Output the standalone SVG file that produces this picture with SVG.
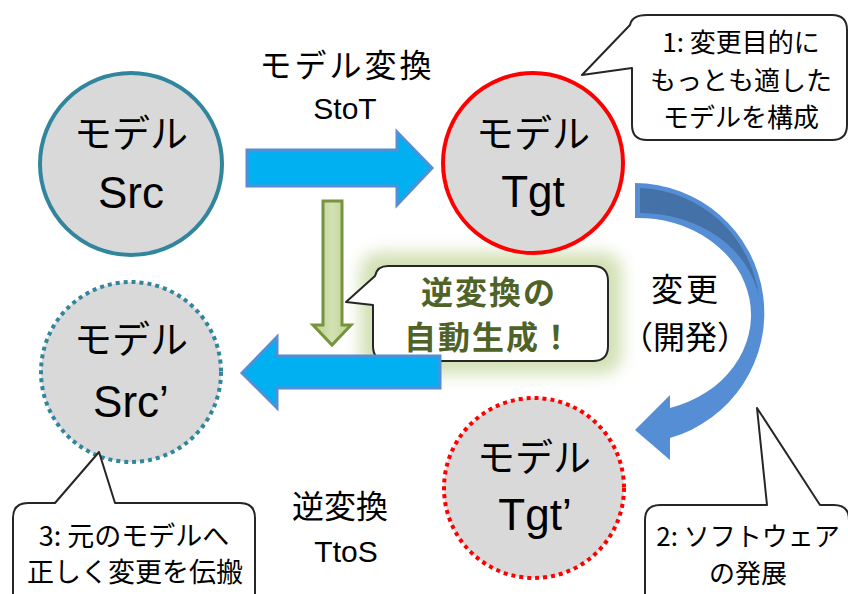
<svg xmlns="http://www.w3.org/2000/svg" width="848" height="594" viewBox="0 0 848 594">
<defs>
<style>
.jp{font-family:"Noto Sans CJK JP","Noto Sans",sans-serif;fill:#000;text-anchor:middle}
.lat{font-family:"Liberation Sans",Arial,sans-serif;fill:#000;text-anchor:middle}
.node{fill:#D9D9D9;stroke-width:4}
.callout{fill:#fff;stroke:#262626;stroke-width:2;stroke-linejoin:round}
.blue{fill:#00B0F0;stroke:#558ED5;stroke-width:3;stroke-linejoin:miter}
</style>
<filter id="glow" x="-30%" y="-40%" width="160%" height="180%">
<feGaussianBlur stdDeviation="8"/>
</filter>
<linearGradient id="gArrow" x1="0" y1="0" x2="1" y2="0">
<stop offset="0" stop-color="#B9CF8C"/>
<stop offset="0.5" stop-color="#D3E2B4"/>
<stop offset="1" stop-color="#B9CF8C"/>
</linearGradient>
</defs>
<rect width="848" height="594" fill="#fff"/>

<!-- glow + inverse callout -->
<g id="auto-gen">
<rect x="360" y="252" width="262" height="122" rx="20" fill="#C3D69B" opacity="0.75" filter="url(#glow)"/>
<path class="callout" d="M388,266 H593 Q608,266 608,281 V346 Q608,361 593,361 H388 Q373,361 373,346 V305 L346,302 L375,276 Q377,266 388,266 Z"/>
<text class="jp" x="489" y="304" font-size="32" font-weight="700" letter-spacing="2" style="fill:#4F6228">逆変換の</text>
<text class="jp" x="489" y="349" font-size="32" font-weight="700" letter-spacing="2" style="fill:#4F6228">自動生成！</text>
</g>

<g id="src">
<circle class="node" cx="131" cy="164" r="91" stroke="#31859C"/>
<text class="jp" x="131" y="147" font-size="38">モデル</text>
<text class="lat" x="131" y="208" font-size="44">Src</text>
</g>

<g id="tgt">
<circle class="node" cx="533" cy="163" r="90" stroke="#FF0000"/>
<text class="jp" x="533" y="147" font-size="38">モデル</text>
<text class="lat" x="533" y="207" font-size="44">Tgt</text>
</g>

<g id="src2">
<circle class="node" cx="131" cy="372" r="90" stroke="#31859C" stroke-dasharray="4 4"/>
<text class="jp" x="131" y="353" font-size="38">モデル</text>
<text class="lat" x="131" y="417" font-size="44">Src’</text>
</g>

<g id="tgt2">
<circle class="node" cx="534" cy="488" r="90" stroke="#FF0000" stroke-dasharray="4 4"/>
<text class="jp" x="534" y="471" font-size="38">モデル</text>
<text class="lat" x="535" y="530" font-size="44">Tgt’</text>
</g>

<g id="connectors">
<!-- StoT -->
<path class="blue" d="M247,150 H397 V132 L432,168 L397,205 V186 H247 Z"/>
<!-- generation down arrow -->
<path d="M323,201 H342 V325 H351 L332,345 L313,325 H323 Z" fill="url(#gArrow)" stroke="#77933C" stroke-width="3"/>
<!-- TtoS -->
<path class="blue" d="M440,356 H277 V337 L242,373 L277,408 V388 H440 Z"/>
<!-- curved change arrow -->
<path d="M635,183 A130,130 0 0 1 670,438 L670,460 L635,430 L670,395 L670,408 A113,97 0 0 0 635,218 Z" fill="#558ED5"/>
<path d="M640,188 A124,124 0 0 1 759,298 A120,100 0 0 0 640,213 Z" fill="#4472A8"/>
</g>

<g id="labels">
<text class="jp" x="347" y="77" font-size="32" letter-spacing="3">モデル変換</text>
<text class="lat" x="345" y="119" font-size="30">StoT</text>
<text class="jp" x="340" y="518" font-size="32">逆変換</text>
<text class="lat" x="346" y="562" font-size="30">TtoS</text>
<text class="jp" x="686" y="301" font-size="32" letter-spacing="3">変更</text>
<text class="jp" x="685" y="349" font-size="32">（開発）</text>
</g>

<g id="note1">
<path class="callout" d="M647,15 H832 Q847,15 847,30 V125 Q847,140 832,140 H647 Q632,140 632,125 V68 L582,75 L630,25 Q632,15 647,15 Z"/>
<text class="jp" x="741" y="52" font-size="26">1: 変更目的に</text>
<text class="jp" x="741" y="90" font-size="26">もっとも適した</text>
<text class="jp" x="741" y="127" font-size="26">モデルを構成</text>
</g>

<g id="note2">
<path class="callout" d="M660,505 H767 L757,408 L820,505 H834 Q849,505 849,520 V600 H645 V520 Q645,505 660,505 Z"/>
<text class="jp" x="748" y="546" font-size="26">2: ソフトウェア</text>
<text class="jp" x="748" y="583" font-size="26">の発展</text>
</g>

<g id="note3">
<path class="callout" d="M28,503 H55 L99,452 L115,503 H240 Q255,503 255,518 V600 H13 V518 Q13,503 28,503 Z"/>
<text class="jp" x="134" y="546" font-size="27">3: 元のモデルへ</text>
<text class="jp" x="135" y="582" font-size="27">正しく変更を伝搬</text>
</g>
</svg>
